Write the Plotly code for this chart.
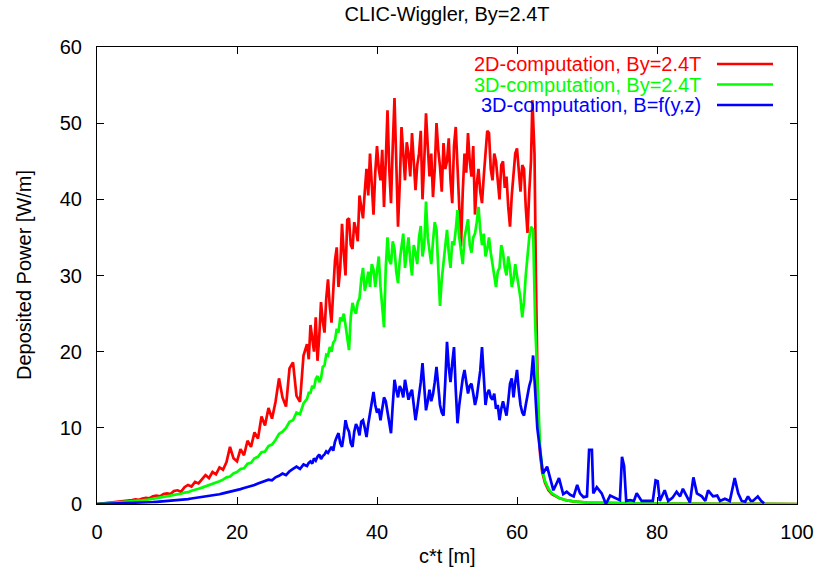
import numpy as np
import plotly.graph_objects as go

# Sampling positions along the wiggler (c*t in metres):
# 0.5 m steps on the rising flank, 0.25 m steps across the noisy plateau,
# then the individual samples of the decay region.
x_rise = np.arange(0, 29.75, 0.5)      # 0 ... 29.5
x_plateau = np.arange(30, 62.01, 0.25)  # 30 ... 62

# ---- 2D computation, By = 2.4 T -------------------------------------------
red_rise = [
    0.0, 0.05, 0.1, 0.1, 0.15, 0.2, 0.25, 0.3, 0.4, 0.45,
    0.5, 0.6, 0.55, 0.7, 0.8, 0.75, 1.0, 1.1, 1.0, 1.3,
    1.4, 1.3, 1.7, 1.8, 1.6, 2.2, 2.5, 2.3, 2.9, 2.7,
    3.3, 3.8, 3.4, 4.2, 3.9, 4.8, 4.5, 5.5, 7.5, 6.0,
    5.6, 7.2, 6.4, 8.3, 7.5, 9.4, 8.6, 11.5, 10.3, 12.6,
    11.2, 13.4, 16.5, 14.0, 12.8, 17.8, 18.6, 14.2, 13.4, 19.5,
]
red_plateau = [
    21.0, 19.0, 23.5, 21.5, 20.0, 24.5, 18.8, 22.0,
    26.5, 24.0, 22.5, 27.0, 29.5, 26.0, 23.8, 28.0,
    32.0, 33.7, 28.5, 31.0, 36.8, 33.0, 30.0, 37.3,
    37.5, 34.0, 33.5, 37.0, 36.0, 34.5, 40.5, 39.0,
    37.5, 41.0, 44.0, 40.5, 46.0, 42.0, 38.0, 43.5,
    47.0, 44.0, 42.5, 46.5, 39.0, 45.0, 51.7, 44.0,
    39.5, 47.0, 53.3, 45.0, 36.4, 42.0, 49.5, 46.0,
    42.5, 47.5, 46.0, 43.0, 48.7, 45.0, 41.2, 44.5,
    46.0, 49.0, 40.0, 45.0, 51.3, 47.0, 43.0, 46.0,
    40.3, 44.0, 50.0, 46.5, 44.3, 41.0, 47.4, 44.0,
    45.0, 48.0, 42.5, 39.5, 47.0, 49.5, 44.0, 40.0,
    33.8, 41.0, 46.0, 43.5, 48.7, 45.0, 43.0, 47.0,
    38.0, 42.0, 44.0, 41.0, 39.5, 43.0, 45.5, 49.0,
    48.7, 44.0, 42.5, 46.0, 45.0, 42.0, 40.0, 44.5,
    45.0, 41.5, 43.0, 39.0, 36.4, 40.5, 43.0, 46.0,
    46.7, 43.5, 41.0, 44.5, 44.0, 39.0, 35.6, 41.0,
    45.0,
]
red_tail_x = [62.2, 62.5, 62.7, 63.0, 63.3, 63.6, 64.0, 64.5, 65.0, 66.0, 67.0, 68.0, 70.0, 75.0, 80.0, 90.0, 100.0]
red_tail_y = [53.0, 46.0, 30.0, 12.0, 6.5, 4.2, 2.8, 1.8, 1.3, 0.8, 0.5, 0.35, 0.2, 0.1, 0.05, 0.02, 0.0]

# ---- 3D computation, By = 2.4 T -------------------------------------------
green_rise = [
    0.0, 0.03, 0.06, 0.08, 0.1, 0.13, 0.17, 0.2, 0.24, 0.28,
    0.33, 0.37, 0.42, 0.47, 0.53, 0.6, 0.68, 0.8, 0.85, 0.95,
    1.0, 1.1, 1.2, 1.25, 1.35, 1.5, 1.55, 1.75, 1.85, 2.0,
    2.15, 2.3, 2.5, 2.6, 2.85, 3.0, 3.2, 3.5, 3.6, 4.0,
    4.2, 4.6, 4.7, 5.3, 5.4, 6.0, 6.2, 6.8, 6.9, 7.6,
    7.8, 8.4, 9.2, 9.5, 10.0, 10.8, 11.0, 12.0, 11.8, 13.2,
]
green_plateau = [
    13.8, 14.6, 14.6, 15.5, 15.2, 16.4, 16.8, 16.0,
    16.5, 18.0, 18.2, 19.6, 19.5, 20.6, 20.0, 21.2,
    21.5, 23.0, 22.5, 24.5, 24.0, 25.0, 23.5, 22.0,
    20.2, 24.5, 26.4, 25.5, 25.0, 26.5, 27.0, 29.5,
    31.0, 28.0, 29.0, 30.5, 28.5, 31.5, 30.8, 28.5,
    30.3, 32.5, 28.5, 26.0, 23.2, 31.0, 35.0, 32.0,
    31.5, 34.5, 33.5, 30.5, 29.0, 32.0, 34.0, 35.5,
    31.0, 33.0, 35.0, 32.0, 30.0, 34.0, 33.0, 31.5,
    35.0, 36.5, 32.5, 34.0, 39.7, 35.0, 33.0, 31.5,
    34.5, 37.0, 36.0, 31.0, 26.0, 29.5, 32.0, 34.0,
    36.0, 33.0, 31.0, 34.5, 34.0, 36.0, 38.6, 35.0,
    33.0, 31.5, 35.0, 36.5, 37.4, 34.0, 33.0, 35.0,
    35.5, 37.0, 39.0, 36.0, 34.0, 35.5, 32.5, 33.5,
    35.0, 33.0, 31.5, 30.0, 28.5, 30.5, 31.0, 34.0,
    33.0, 31.0, 30.0, 32.5, 31.0, 28.5, 29.5, 31.5,
    30.0, 28.0, 27.0, 24.5, 26.5, 30.0, 33.0, 35.0,
    36.4,
]
green_tail_x = [62.3, 62.6, 63.0, 63.3, 63.6, 64.0, 64.5, 65.0, 66.0, 67.0, 68.0, 70.0, 75.0, 80.0, 90.0, 100.0]
green_tail_y = [36.0, 23.6, 13.2, 7.5, 4.5, 3.0, 2.0, 1.4, 0.8, 0.5, 0.35, 0.2, 0.1, 0.05, 0.02, 0.0]

# ---- 3D computation, B = f(y,z) -------------------------------------------
blue_rise = [
    0.0, 0.01, 0.02, 0.03, 0.04, 0.05, 0.06, 0.07, 0.09, 0.1,
    0.12, 0.14, 0.16, 0.18, 0.2, 0.23, 0.26, 0.29, 0.32, 0.35,
    0.38, 0.42, 0.46, 0.5, 0.55, 0.6, 0.65, 0.72, 0.78, 0.85,
    0.9, 0.98, 1.05, 1.12, 1.2, 1.28, 1.4, 1.5, 1.6, 1.7,
    1.8, 1.95, 2.1, 2.2, 2.35, 2.5, 2.7, 2.9, 3.0, 3.2,
    3.1, 3.5, 3.7, 4.0, 3.8, 4.3, 4.6, 4.9, 4.6, 5.2,
]
blue_plateau = [
    5.0, 5.4, 5.6, 5.3, 6.0, 5.7, 6.2, 6.5,
    5.9, 6.3, 6.5, 6.9, 6.7, 7.2, 7.5, 7.0,
    8.2, 8.8, 9.3, 8.0, 7.5, 9.0, 11.0, 10.0,
    9.5, 8.0, 7.5, 9.5, 10.5, 10.0, 9.0, 10.8,
    11.0, 10.0, 8.8, 10.5, 12.0, 13.5, 14.7, 13.0,
    12.0, 12.5, 11.0, 12.5, 14.0, 13.5, 12.0, 10.5,
    9.3, 13.0, 16.3, 15.0, 14.0, 15.5, 15.0, 14.0,
    16.3, 15.0, 13.7, 14.5, 15.0, 13.0, 11.0, 12.5,
    14.0, 16.0, 18.5, 15.0, 12.3, 13.5, 15.0, 13.5,
    14.4, 16.0, 18.0, 15.5, 13.0, 12.0, 11.6, 16.0,
    21.3, 18.0, 16.0, 18.5, 20.6, 15.0, 10.6, 13.0,
    15.0, 16.5, 17.6, 16.0, 14.5, 15.5, 15.8, 14.5,
    13.0, 14.0, 15.5, 17.5, 20.6, 16.0, 13.0, 14.5,
    15.0, 14.0, 13.7, 14.5, 12.5, 13.0, 11.0, 12.5,
    13.5, 12.5, 11.6, 13.5, 15.8, 16.5, 14.0, 16.0,
    17.6, 15.0, 13.0, 12.0, 11.6, 13.0, 14.5, 15.5,
    16.3,
]
blue_tail_x = [
    62.3, 62.9, 63.3, 63.7, 64.3, 64.7, 65.2, 65.6, 66.0, 66.6,
    67.1, 67.6, 68.1, 68.6, 69.0, 69.5, 70.0, 70.3, 70.7, 70.9,
    71.4, 72.1, 72.7, 73.3, 73.8, 74.3, 74.7, 75.0, 75.3, 75.6,
    76.2, 76.7, 77.1, 77.8, 78.5, 79.4, 79.8, 80.1, 80.4, 81.1,
    81.6, 82.2, 82.8, 83.3, 83.7, 84.3, 84.7, 85.2, 85.7, 86.4,
    86.9, 87.3, 88.0, 88.6, 89.0, 89.7, 90.4, 91.1, 91.6, 92.1,
    92.6, 93.0, 93.4, 93.7, 94.4, 94.9, 95.3,
]
blue_tail_y = [
    19.5, 10.0, 6.7, 4.0, 4.9, 3.5, 1.8, 2.6, 3.4, 1.3,
    1.6, 1.2, 1.0, 2.5, 1.4, 0.9, 1.0, 7.1, 7.1, 1.4,
    2.2, 1.4, 0.0, 1.1, 0.9, 0.7, 0.5, 6.2, 5.0, 0.4,
    0.5, 0.4, 1.4, 0.4, 0.4, 0.4, 3.1, 3.0, 0.4, 1.8,
    0.4, 0.8, 1.6, 1.0, 2.0, 1.0, 0.2, 3.5, 1.4, 1.0,
    0.4, 1.8, 1.0, 1.1, 0.4, 0.7, 0.4, 3.4, 1.4, 0.4,
    0.3, 1.0, 0.4, 0.4, 1.0, 0.4, 0.1,
]

series_names = [
    "2D-computation, By=2.4T",
    "3D-computation, By=2.4T",
    "3D-computation, B=f(y,z)",
]
series_colors = ["#ff0000", "#00ff00", "#0000ff"]

x_ticks = [0, 20, 40, 60, 80, 100]
y_ticks = [0, 10, 20, 30, 40, 50, 60]

FONT = "Liberation Sans, Arial, Helvetica, sans-serif"
FS = 20
LW = 2.7

x_head = list(x_rise) + list(x_plateau)
series = [
    (x_head + red_tail_x, red_rise + red_plateau + red_tail_y),
    (x_head + green_tail_x, green_rise + green_plateau + green_tail_y),
    (x_head + blue_tail_x, blue_rise + blue_plateau + blue_tail_y),
]
for xs, ys in series:
    assert len(xs) == len(ys)

fig = go.Figure()
for (xs, ys), name, color in zip(series, series_names, series_colors):
    fig.add_trace(go.Scatter(
        x=xs, y=ys, mode="lines", name=name,
        line=dict(color=color, width=LW),
        showlegend=False,
    ))

# Key in the upper right: right-aligned coloured label followed by a line sample
key_rows_px = [64, 84.5, 105]
plot_left, plot_right, plot_top, plot_bottom = 97, 797, 47, 504
pw, ph = plot_right - plot_left, plot_bottom - plot_top
shapes = []
annotations = []
for name, color, ypx in zip(series_names, series_colors, key_rows_px):
    yp = (plot_bottom - ypx) / ph
    annotations.append(dict(
        xref="paper", yref="paper", x=(703 - plot_left) / pw, y=yp,
        xanchor="right", yanchor="middle", text=name, showarrow=False,
        font=dict(family=FONT, size=FS, color=color),
    ))
    shapes.append(dict(
        type="line", xref="paper", yref="paper",
        x0=(717 - plot_left) / pw, x1=(773 - plot_left) / pw, y0=yp, y1=yp,
        line=dict(color=color, width=LW),
    ))

# Axis titles
annotations.append(dict(
    xref="paper", yref="paper", x=0.5, y=(plot_bottom - 556) / ph,
    xanchor="center", yanchor="middle", text="c*t [m]", showarrow=False,
    font=dict(family=FONT, size=FS, color="#000000"),
))
annotations.append(dict(
    xref="paper", yref="paper", x=(23.5 - plot_left) / pw, y=0.5,
    xanchor="center", yanchor="middle", text="Deposited Power [W/m]",
    textangle=-90, showarrow=False,
    font=dict(family=FONT, size=FS, color="#000000"),
))

axis_common = dict(
    showgrid=False, zeroline=False,
    showline=True, linecolor="#000000", linewidth=1, mirror="ticks",
    ticks="inside", ticklen=7, tickwidth=1, tickcolor="#000000",
    tickfont=dict(family=FONT, size=FS, color="#000000"),
    ticklabelstandoff=10,
)

fig.update_layout(
    width=819, height=570,
    margin=dict(l=plot_left, r=819 - plot_right, t=plot_top, b=570 - plot_bottom, autoexpand=False),
    paper_bgcolor="#ffffff", plot_bgcolor="#ffffff",
    title=dict(
        text="CLIC-Wiggler, By=2.4T", x=0.5, xref="paper", xanchor="center",
        y=1 - 14 / 570, yref="container", yanchor="middle",
        font=dict(family=FONT, size=FS, color="#000000"),
    ),
    xaxis=dict(range=[0, 100], tickvals=x_ticks, **axis_common),
    yaxis=dict(range=[0, 60], tickvals=y_ticks, **axis_common),
    shapes=shapes,
    annotations=annotations,
    showlegend=False,
)

fig.write_html("out.html")
